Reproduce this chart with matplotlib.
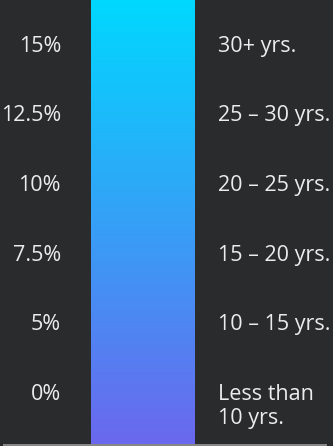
import numpy as np
import matplotlib.pyplot as plt
from matplotlib.colors import LinearSegmentedColormap

plt.rcParams['font.family'] = ['Open Sans', 'DejaVu Sans']

# legend scale: percentage ticks and the tenure bands they go with
pct_labels = ['0%', '5%', '7.5%', '10%', '12.5%', '15%']
tenure_labels = ['Less than\n10 yrs.', '10 \u2013 15 yrs.', '15 \u2013 20 yrs.',
                 '20 \u2013 25 yrs.', '25 \u2013 30 yrs.', '30+ yrs.']
grad_colors = ['#6b68ee', '#00d8ff']  # bottom -> top

bg = '#2a2b2d'
txt = '#ececec'

fig = plt.figure(figsize=(3.33, 4.46), dpi=100, facecolor=bg)
ax = fig.add_axes([0, 0, 1, 1])
ax.set_facecolor(bg)
ax.set_xlim(0, 333)
ax.set_ylim(-0.66, 5.739)
ax.axis('off')

pos = np.arange(len(pct_labels))

# gradient bar
cmap = LinearSegmentedColormap.from_list('leg', grad_colors)
grad = np.linspace(0, 1, 256).reshape(-1, 1)
ax.imshow(grad, cmap=cmap, origin='lower', aspect='auto',
          extent=[91, 195, -0.631, 5.725], interpolation='bilinear')

fs = 15.5
for p, lab in zip(pos, pct_labels):
    ax.text(61, p, lab, ha='right', va='baseline', color=txt, fontsize=fs)

for p, lab in zip(pos, tenure_labels):
    for k, line in enumerate(lab.split('\n')):
        ax.text(218, p - k * 0.344, line, ha='left', va='baseline', color=txt, fontsize=fs)

# thin light rule along the bottom edge
ax.plot([3, 327], [-0.647, -0.647], color='#9a9a9a', lw=1.2, solid_capstyle='butt')

fig.savefig('out.png', dpi=100, facecolor=bg)
